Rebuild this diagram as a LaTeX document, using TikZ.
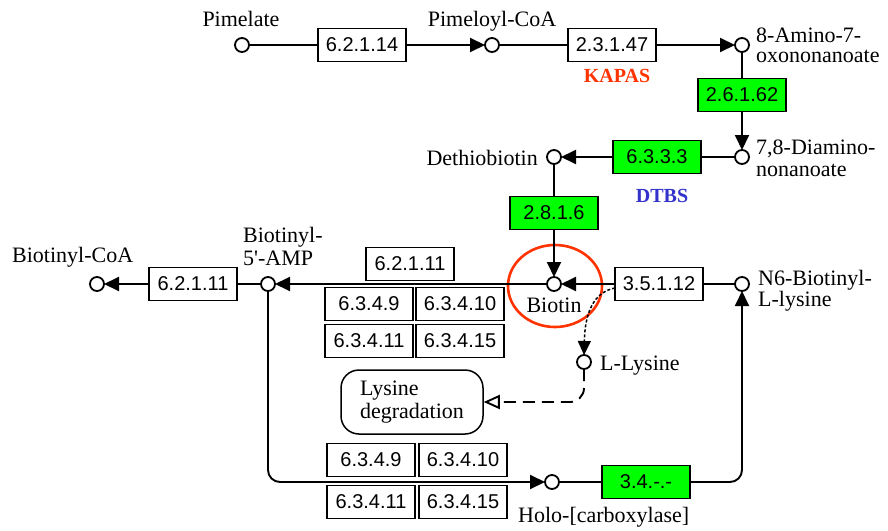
\documentclass[tikz,border=0pt]{standalone}
\usepackage{fontspec}
\setmainfont{Liberation Serif}
\newfontfamily\enzfont{Liberation Sans}
\usetikzlibrary{arrows.meta,shapes.geometric}
\definecolor{kgreen}{RGB}{0,255,0}
\definecolor{kred}{RGB}{255,51,0}
\definecolor{kblue}{RGB}{51,51,204}
\begin{document}
\begin{tikzpicture}[x=1pt,y=-1pt,
 cpd/.style={circle,draw,line width=1.8pt,minimum size=14pt,inner sep=0pt,outer sep=0pt,fill=white},
 enz/.style={draw,line width=1.5pt,minimum width=88pt,minimum height=33pt,inner sep=0pt,outer sep=0pt,font=\enzfont\fontsize{20}{20}\selectfont},
 genz/.style={enz,fill=kgreen},
 lbl/.style={inner sep=0pt,font=\fontsize{22}{22}\selectfont},
 conn/.style={line width=1.9pt},
 arr/.style={conn,-{Triangle[length=15pt,width=14pt]}},
]
\useasboundingbox (0,0) rectangle (888,530);
% compounds
\node[cpd] (pim) at (242,45) {};
\node[cpd] (pimcoa) at (492,45) {};
\node[cpd] (amino) at (742,45) {};
\node[cpd] (diamino) at (742,157) {};
\node[cpd] (dethio) at (554,157) {};
\node[cpd] (biotin) at (554,284) {};
\node[cpd] (amp) at (268,284) {};
\node[cpd] (bcoa) at (97,284) {};
\node[cpd] (n6) at (742,284) {};
\node[cpd] (lys) at (584,362) {};
\node[cpd] (holo) at (552,482) {};
% enzymes
\node[enz] (e1) at (362,45) {6.2.1.14};
\node[enz] (e2) at (612,45) {2.3.1.47};
\node[genz] (e3) at (742,95) {2.6.1.62};
\node[genz] (e4) at (657,157) {6.3.3.3};
\node[genz] (e5) at (554,213) {2.8.1.6};
\node[enz] (e6) at (659,284) {3.5.1.12};
\node[enz] (e7) at (193,284) {6.2.1.11};
\node[enz] (e8) at (410,264) {6.2.1.11};
\node[enz] (e9) at (369,304) {6.3.4.9};
\node[enz] (e10) at (460,304) {6.3.4.10};
\node[enz] (e11) at (369,341) {6.3.4.11};
\node[enz] (e12) at (460,341) {6.3.4.15};
\node[enz] (e13) at (371,460) {6.3.4.9};
\node[enz] (e14) at (463,460) {6.3.4.10};
\node[enz] (e15) at (371,502) {6.3.4.11};
\node[enz] (e16) at (463,502) {6.3.4.15};
\node[genz] (e17) at (646,482) {3.4.-.-};
% map box
\node[draw,line width=1.5pt,rounded corners=18pt,minimum width=142pt,minimum height=64pt,inner sep=0pt,align=left,font=\fontsize{22}{23}\selectfont] (degr) at (412,402) {Lysine\\degradation};
% highlight
\node[ellipse,draw=kred,line width=2.6pt,minimum width=94pt,minimum height=82pt,inner sep=0pt] (hl) at (555,286) {};
% connectors
\draw[conn] (pim) -- (e1);
\draw[arr] (e1) -- (pimcoa);
\draw[conn] (pimcoa) -- (e2);
\draw[arr] (e2) -- (amino);
\draw[conn] (amino) -- (e3);
\draw[arr] (e3) -- (diamino);
\draw[conn] (diamino) -- (e4);
\draw[arr] (e4) -- (dethio);
\draw[conn] (dethio) -- (e5);
\draw[arr] (e5) -- (biotin);
\draw[conn] (n6) -- (e6);
\draw[arr] (e6) -- (biotin);
\draw[arr] (biotin) -- (amp);
\draw[conn] (amp) -- (e7);
\draw[arr] (e7) -- (bcoa);
\draw[arr,rounded corners=12pt] (amp.south) -- (amp.south |- holo.west) -- (holo.west);
\draw[conn] (holo) -- (e17);
\draw[arr,rounded corners=12pt] (e17.east) -- (e17.east -| n6.south) -- (n6.south);
\draw[line width=1.5pt,dash pattern=on 3pt off 2pt,-{Triangle[length=14pt,width=13pt]}] ([yshift=-4pt]e6.west) .. controls (594,292) and (585,312) .. (lys.north);
\draw[conn,dash pattern=on 12pt off 7pt,-{Triangle[open,length=16pt,width=14pt]},rounded corners=14pt] (lys.south) -- (lys.south |- degr.east) -- (degr.east);
% labels
\node[lbl,anchor=base] (lpim) at (241,27) {Pimelate};
\node[lbl,anchor=base] (lpimcoa) at (492,27) {Pimeloyl-CoA};
\node[lbl,anchor=north west,align=left,font=\fontsize{22}{20}\selectfont] (lamino) at (756,28) {8-Amino-7-\\oxononanoate};
\node[lbl,anchor=north west,align=left,font=\fontsize{22}{22}\selectfont] (ldiamino) at (756,140) {7,8-Diamino-\\nonanoate};
\node[lbl,anchor=base east] (ldethio) at (538,165) {Dethiobiotin};
\node[lbl,anchor=base] (lbiotin) at (554,312) {Biotin};
\node[lbl,anchor=base west] (llys) at (600,370) {L-Lysine};
\node[lbl,anchor=north west,align=left,font=\fontsize{22}{20}\selectfont] (ln6) at (758,270) {N6-Biotinyl-\\L-lysine};
\node[lbl,anchor=north west,align=left,font=\fontsize{22}{23}\selectfont] (lamp) at (243,227) {Biotinyl-\\5\textquotesingle-AMP};
\node[lbl,anchor=base west] (lbcoa) at (12,262) {Biotinyl-CoA};
\node[lbl,anchor=base west] (lholo) at (518,522) {Holo-[carboxylase]};
\node[inner sep=0pt,anchor=base,text=kred,font=\bfseries\fontsize{20}{20}\selectfont] (kapas) at (617,82) {KAPAS};
\node[inner sep=0pt,anchor=base,text=kblue,font=\bfseries\fontsize{20}{20}\selectfont] (dtbs) at (662,202) {DTBS};
\end{tikzpicture}
\end{document}
